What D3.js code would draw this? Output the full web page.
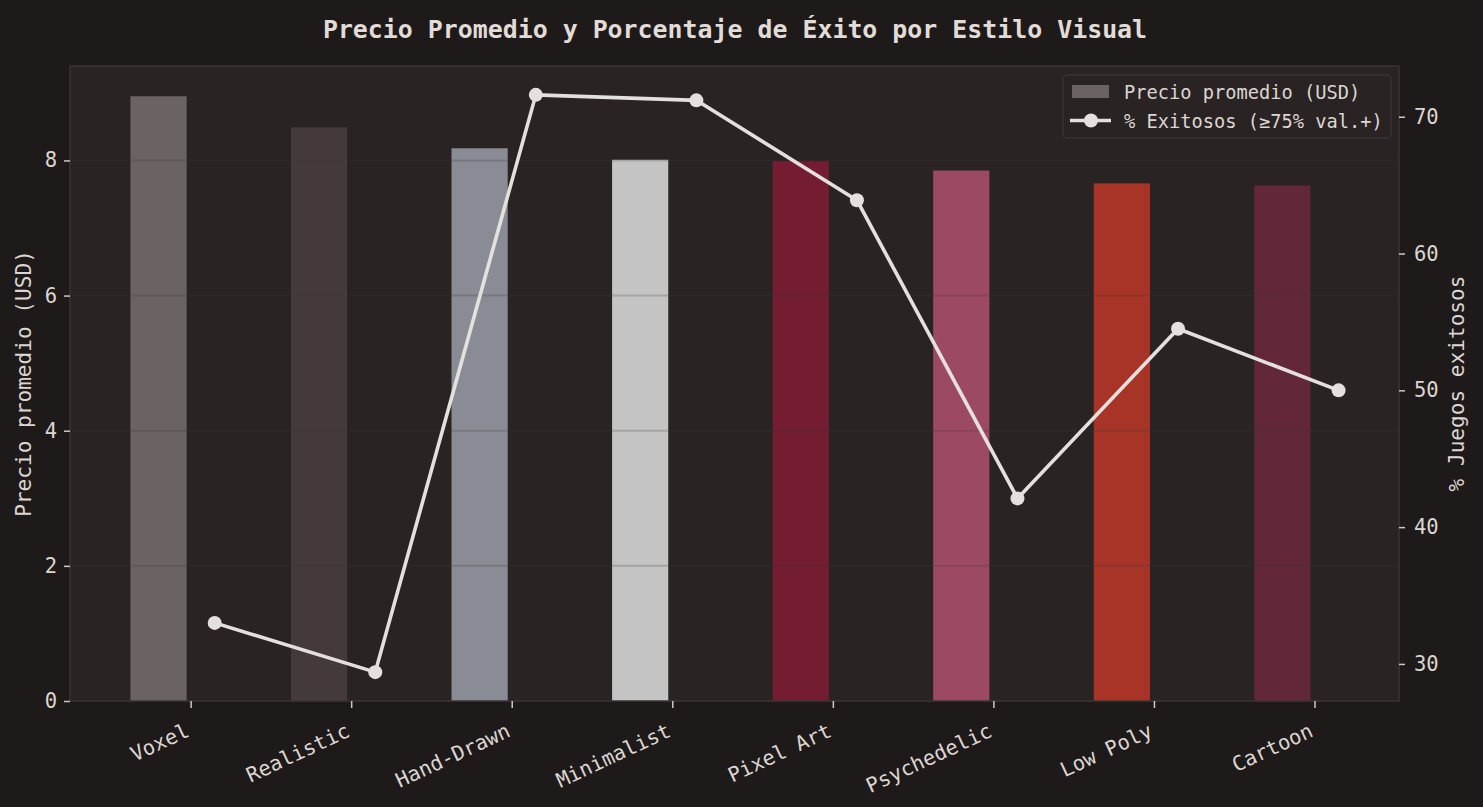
<!DOCTYPE html>
<html>
<head>
<meta charset="utf-8">
<script src="https://cdn.jsdelivr.net/npm/d3@7"></script>
<style>
  html, body { margin: 0; padding: 0; background: #1e1a19; }
  svg { display: block; }
  text { font-family: "DejaVu Sans Mono", monospace; fill: #dcd6d2; }
</style>
</head>
<body>
<div class="chart"></div>
<script>
const svgWidth = 1483
const svgHeight = 807

let margin = { top: 66, right: 84, bottom: 106, left: 70 }
let width = svgWidth - margin.left - margin.right
let height = svgHeight - margin.top - margin.bottom

// data
const styles = ["Voxel", "Realistic", "Hand-Drawn", "Minimalist", "Pixel Art", "Psychedelic", "Low Poly", "Cartoon"]
const avgPrice = [8.95, 8.49, 8.18, 8.01, 7.99, 7.85, 7.66, 7.63]
const pctSuccess = [33.0, 29.4, 71.6, 71.2, 63.9, 42.1, 54.5, 50.0]
const barColors = ["#6b6361", "#453a3a", "#8a8c95", "#c4c4c4", "#731c32", "#9c4a64", "#a83428", "#622838"]
const priceTicks = [0, 2, 4, 6, 8]
const pctTicks = [30, 40, 50, 60, 70]

const barOffset = -0.2
const barWidth = 0.35
const lineOffset = 0.15

let svg = d3.select(".chart")
  .append("svg")
  .attr("width", svgWidth)
  .attr("height", svgHeight)

svg.append("rect")
  .attr("width", svgWidth)
  .attr("height", svgHeight)
  .attr("fill", "#1e1a19")

let chartGroup = svg.append("g")
  .attr("transform", `translate(${margin.left}, ${margin.top})`)

// x domain with 5% padding like matplotlib
let xMin = barOffset - barWidth / 2
let xMax = styles.length - 1 + lineOffset
let pad = (xMax - xMin) * 0.05
let x = d3.scaleLinear().domain([xMin - pad, xMax + pad]).range([0, width])

let y = d3.scaleLinear().domain([0, d3.max(avgPrice) * 1.05]).range([height, 0])

let pMin = d3.min(pctSuccess), pMax = d3.max(pctSuccess)
let pPad = (pMax - pMin) * 0.05
let y2 = d3.scaleLinear().domain([pMin - pPad, pMax + pPad]).range([height, 0])

chartGroup.append("rect")
  .attr("width", width)
  .attr("height", height)
  .attr("fill", "#292323")

// bars
chartGroup.selectAll(".bar")
  .data(avgPrice)
  .enter()
  .append("rect")
  .attr("class", "bar")
  .attr("x", (d, i) => x(i + barOffset - barWidth / 2))
  .attr("width", (d, i) => x(i + barOffset + barWidth / 2) - x(i + barOffset - barWidth / 2))
  .attr("y", d => y(d))
  .attr("height", d => height - y(d))
  .attr("fill", (d, i) => barColors[i])

// grid over bars
chartGroup.selectAll(".grid")
  .data(priceTicks.filter(t => t > 0))
  .enter()
  .append("line")
  .attr("x1", 0)
  .attr("x2", width)
  .attr("y1", d => y(d))
  .attr("y2", d => y(d))
  .attr("stroke", "#3c3535")
  .attr("stroke-opacity", 0.22)
  .attr("stroke-width", 2)

// spines
chartGroup.append("rect")
  .attr("width", width)
  .attr("height", height)
  .attr("fill", "none")
  .attr("stroke", "#3b3434")
  .attr("stroke-width", 1.5)

// axes
let bottomAxis = d3.axisBottom(x)
  .tickValues(d3.range(styles.length))
  .tickFormat(i => styles[i])
  .tickSize(7)
  .tickPadding(6)

let xAxis = chartGroup.append("g")
  .attr("transform", `translate(0, ${height})`)
  .call(bottomAxis)

xAxis.selectAll("text")
  .attr("text-anchor", "end")
  .attr("font-size", "20.5px")
  .attr("dy", 0)
  .attr("transform", "translate(-6, 23) rotate(-25)")

let leftAxis = d3.axisLeft(y).tickValues(priceTicks).tickSize(6).tickPadding(7)
let yAxis = chartGroup.append("g").call(leftAxis)
yAxis.selectAll("text").attr("font-size", "20.5px")

let rightAxis = d3.axisRight(y2).tickValues(pctTicks).tickSize(6).tickPadding(9)
let y2Axis = chartGroup.append("g")
  .attr("transform", `translate(${width}, 0)`)
  .call(rightAxis)
y2Axis.selectAll("text").attr("font-size", "20.5px")

for (let ax of [xAxis, yAxis, y2Axis]) {
  ax.select(".domain").remove()
  ax.selectAll("line").attr("stroke", "#cfc8c4").attr("stroke-width", 1.5)
  ax.selectAll("text").style("fill", "#dcd6d2").attr("font-family", "DejaVu Sans Mono")
}

// line
let line = d3.line()
  .x((d, i) => x(i + lineOffset))
  .y(d => y2(d))

chartGroup.append("path")
  .datum(pctSuccess)
  .attr("d", line)
  .attr("fill", "none")
  .attr("stroke", "#e4e0dd")
  .attr("stroke-width", 3.6)
  .attr("stroke-linejoin", "round")

chartGroup.selectAll(".dot")
  .data(pctSuccess)
  .enter()
  .append("circle")
  .attr("cx", (d, i) => x(i + lineOffset))
  .attr("cy", d => y2(d))
  .attr("r", 7)
  .attr("fill", "#e4e0dd")

// labels
svg.append("text")
  .attr("x", 735)
  .attr("y", 38)
  .attr("text-anchor", "middle")
  .attr("font-size", "24.9px")
  .attr("font-weight", "bold")
  .style("fill", "#e2dcd8")
  .text("Precio Promedio y Porcentaje de Éxito por Estilo Visual")

svg.append("text")
  .attr("transform", `translate(31, ${margin.top + height / 2}) rotate(-90)`)
  .attr("text-anchor", "middle")
  .attr("font-size", "21.1px")
  .text("Precio promedio (USD)")

svg.append("text")
  .attr("transform", `translate(1464, ${margin.top + height / 2}) rotate(-90)`)
  .attr("text-anchor", "middle")
  .attr("font-size", "21.1px")
  .text("% Juegos exitosos")

// legend
let legend = svg.append("g").attr("transform", "translate(1063, 75)")
legend.append("rect")
  .attr("width", 328)
  .attr("height", 63)
  .attr("rx", 4)
  .attr("fill", "#2a2424")
  .attr("fill-opacity", 0.9)
  .attr("stroke", "#3a3333")
  .attr("stroke-width", 1.5)
legend.append("rect")
  .attr("x", 9)
  .attr("y", 10)
  .attr("width", 37)
  .attr("height", 13)
  .attr("fill", barColors[0])
legend.append("line")
  .attr("x1", 7).attr("x2", 48)
  .attr("y1", 45.5).attr("y2", 45.5)
  .attr("stroke", "#e4e0dd")
  .attr("stroke-width", 3.6)
legend.append("circle")
  .attr("cx", 28).attr("cy", 45.5).attr("r", 7)
  .attr("fill", "#e4e0dd")
legend.append("text")
  .attr("x", 61).attr("y", 24)
  .attr("font-size", "18.7px")
  .text("Precio promedio (USD)")
legend.append("text")
  .attr("x", 61).attr("y", 53)
  .attr("font-size", "18.7px")
  .text("% Exitosos (≥75% val.+)")
</script>
</body>
</html>
